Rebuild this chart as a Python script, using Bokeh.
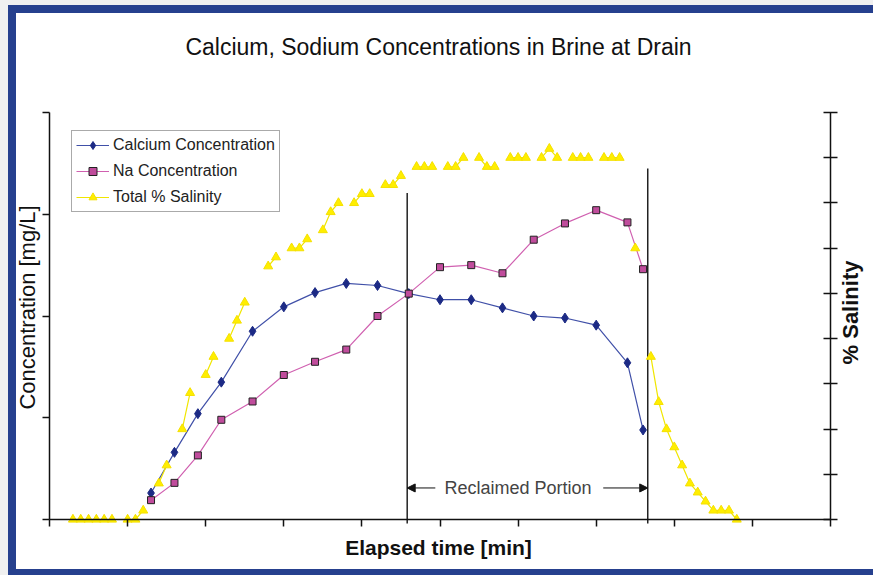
import numpy as np
from bokeh.plotting import figure
from bokeh.models import (LinearAxis, Range1d, FixedTicker, Arrow, NormalHead,
                          Label, Legend, LegendItem, ColumnDataSource)
from bokeh.embed import file_html
from bokeh.resources import INLINE

# ---- data ----
sample_time = [1.3, 1.6, 1.9, 2.2, 2.6, 3.0, 3.4, 3.8, 4.2, 4.6, 5.0, 5.4, 5.8, 6.2, 6.6, 7.0, 7.4, 7.6]
calcium = [0.26, 0.66, 1.04, 1.35, 1.85, 2.09, 2.23, 2.32, 2.30, 2.22, 2.16, 2.16, 2.08, 2.00, 1.98, 1.91, 1.54, 0.88]
sodium = [0.19, 0.36, 0.63, 0.98, 1.16, 1.42, 1.55, 1.67, 2.00, 2.22, 2.48, 2.50, 2.42, 2.75, 2.91, 3.04, 2.92, 2.46]

sal_time = [0.3, 0.4, 0.5, 0.6, 0.7, 0.8, 0.9, 1.0, 1.1, 1.2, 1.3, 1.4, 1.5, 1.6, 1.7, 1.8, 1.9,
            2.0, 2.1, 2.2, 2.3, 2.4, 2.5, 2.6, 2.7, 2.8, 2.9, 3.0, 3.1, 3.2, 3.3, 3.4, 3.5, 3.6,
            3.7, 3.8, 3.9, 4.0, 4.1, 4.2, 4.3, 4.4, 4.5, 4.6, 4.7, 4.8, 4.9, 5.0, 5.1, 5.2, 5.3,
            5.4, 5.5, 5.6, 5.7, 5.8, 5.9, 6.0, 6.1, 6.2, 6.3, 6.4, 6.5, 6.6, 6.7, 6.8, 6.9, 7.0,
            7.1, 7.2, 7.3, 7.4, 7.5, 7.6, 7.7, 7.8, 7.9, 8.0, 8.1, 8.2, 8.3, 8.4, 8.5, 8.6, 8.7, 8.8]
salinity = [0, 0, 0, 0, 0, 0, None, 0, 0, 0.2, None, 0.8, 1.2, None, 2.0, 2.8, None,
            3.2, 3.6, None, 4.0, 4.4, 4.8, None, None, 5.6, 5.8, None, 6.0, 6.0, 6.2, None, 6.4, 6.8,
            7.0, None, 7.0, 7.2, 7.2, None, 7.4, 7.4, 7.6, None, 7.8, 7.8, 7.8, None, 7.8, 7.8, 8.0,
            None, 8.0, 7.8, 7.8, None, 8.0, 8.0, 8.0, None, 8.0, 8.2, 8.0, None, 8.0, 8.0, 8.0, None,
            8.0, 8.0, 8.0, None, 6.0, None, 3.6, 2.6, 2.0, 1.6, 1.2, 0.8, 0.6, 0.4, 0.2, 0.2, 0.2, 0.0]

x_ticks = list(range(0, 11))
conc_ticks = [0, 1, 2, 3, 4]
sal_ticks = list(range(0, 10))
x_max, conc_max, sal_max = 10, 4, 9

reclaim_start = 4.58
reclaim_end = 7.66
reclaim_start_top = 3.21
reclaim_end_top = 3.45
arrow_y = 0.31

FONT = "Liberation Sans"
B = "#26408e"      # blue frame
G = "#f0f0f0"      # page grey

# ---- layout (pixels inside the canvas) ----
W, H = 857, 556
ax_left, ax_right, ax_top, ax_bottom = 33, 814, 99, 506   # axis box inside canvas
ppx = (ax_right - ax_left) / x_max
ppy = (ax_bottom - ax_top) / conc_max
pps = (ax_bottom - ax_top) / sal_max
x_rng = Range1d(-ax_left / ppx, (W - ax_left) / ppx)
y_rng = Range1d(-(H - ax_bottom) / ppy, ax_bottom / ppy)
s_rng = Range1d(-(H - ax_bottom) / pps, ax_bottom / pps)

sal_vals = np.array([np.nan if v is None else v for v in salinity], dtype=float)

p = figure(width=W, height=H, output_backend="svg", toolbar_location=None,
           x_range=x_rng, y_range=y_rng, x_axis_location=None, y_axis_location=None,
           min_border_left=0, min_border_right=0, min_border_top=0, min_border_bottom=0)
p.margin = (13, 0, 0, 16)
p.styles = {"box-shadow": ", ".join([
    f"-8px 0px 0px 0px {B}", f"0px -8px 0px 0px {B}", f"-8px -8px 0px 0px {B}",
    f"0px 6px 0px 0px {B}", f"-8px 6px 0px 0px {B}",
    f"-16px -13px 0px 0px {G}", f"0px -13px 0px 0px {G}", f"-16px 0px 0px 0px {G}",
    f"-16px 6px 0px 0px {G}"])}
p.extra_y_ranges = {"sal": s_rng}
p.outline_line_color = None
p.background_fill_color = "white"
p.border_fill_color = "white"
p.title.text = ""
p.xgrid.visible = False
p.ygrid.visible = False
for g in p.grid:
    g.visible = False

def make_axis(ax, tin, tout, ticks):
    ax.ticker = FixedTicker(ticks=ticks)
    ax.major_label_overrides = {t: "" for t in ticks}
    ax.axis_line_color = "#111111"
    ax.axis_line_width = 1.5
    ax.major_tick_line_color = "#111111"
    ax.major_tick_line_width = 1.5
    ax.major_tick_in = tin
    ax.major_tick_out = tout
    ax.minor_tick_line_color = None
    ax.major_label_text_font_size = "0px"
    ax.major_label_standoff = 0
    return ax

bottom_ax = make_axis(LinearAxis(fixed_location=0, bounds=(0, x_max)), 0, 7, x_ticks)
left_ax = make_axis(LinearAxis(fixed_location=0, bounds=(0, conc_max)), 0, 7, conc_ticks)
right_ax = make_axis(LinearAxis(y_range_name="sal", fixed_location=x_max, bounds=(0, sal_max)), 7, 7, sal_ticks)
p.add_layout(bottom_ax, "below")
p.add_layout(left_ax, "left")
p.add_layout(right_ax, "right")

def px_x(px):   # canvas pixel -> data x
    return (px - ax_left) / ppx
def px_y(py):   # canvas pixel -> concentration units
    return (ax_bottom - py) / ppy

# texts
p.add_layout(Label(x=px_x(422), y=px_y(33), text="Calcium, Sodium Concentrations in Brine at Drain",
                   text_align="center", text_baseline="alphabetic", text_font=FONT,
                   text_font_size="23px", text_color="#111111"))
p.add_layout(Label(x=px_x(422), y=px_y(534), text="Elapsed time [min]",
                   text_align="center", text_baseline="alphabetic", text_font=FONT,
                   text_font_size="21px", text_font_style="bold", text_color="#111111"))
p.add_layout(Label(x=px_x(11), y=px_y(294), text="Concentration [mg/L]", angle=np.pi / 2,
                   text_align="center", text_baseline="middle", text_font=FONT,
                   text_font_size="22px", text_color="#111111"))
p.add_layout(Label(x=px_x(834), y=px_y(299), text="% Salinity", angle=np.pi / 2,
                   text_align="center", text_baseline="middle", text_font=FONT,
                   text_font_size="22px", text_font_style="bold", text_color="#111111"))

# reclaimed portion markers
p.segment(x0=[reclaim_start], y0=[-0.04], x1=[reclaim_start], y1=[reclaim_start_top],
          line_color="#222222", line_width=1.5)
p.segment(x0=[reclaim_end], y0=[-0.04], x1=[reclaim_end], y1=[reclaim_end_top],
          line_color="#222222", line_width=1.5)

# series
src = ColumnDataSource(dict(t=sample_time, ca=calcium, na=sodium))
ca_line = p.line("t", "ca", source=src, line_color="#4050a8", line_width=1.2)
ca_pts = p.scatter("t", "ca", source=src, marker="diamond", size=10,
                   fill_color="#1c2a85", line_color="#1c2a85")
na_line = p.line("t", "na", source=src, line_color="#d060b0", line_width=1.2)
na_pts = p.scatter("t", "na", source=src, marker="square", size=7,
                   fill_color="#c04c9c", line_color="#222222", line_width=1)
ssrc = ColumnDataSource(dict(t=sal_time, s=sal_vals))
sal_line = p.line("t", "s", source=ssrc, y_range_name="sal", line_color="#f0e600", line_width=1.2)
sal_pts = p.scatter("t", "s", source=ssrc, y_range_name="sal", marker="triangle", size=9,
                    fill_color="#ffee00", line_color="#f5e000")

# arrows and label
head = dict(size=8, fill_color="#111111", line_color="#111111")
p.add_layout(Arrow(end=NormalHead(**head), x_start=4.94, y_start=arrow_y,
                   x_end=reclaim_start, y_end=arrow_y, line_width=1, line_color="#111111"))
p.add_layout(Arrow(end=NormalHead(**head), x_start=7.09, y_start=arrow_y,
                   x_end=reclaim_end, y_end=arrow_y, line_width=1, line_color="#111111"))
p.add_layout(Label(x=6.0, y=arrow_y, text="Reclaimed Portion", text_align="center",
                   text_baseline="middle", text_font=FONT, text_font_size="18px",
                   text_color="#444444"))

legend = Legend(items=[LegendItem(label="Calcium Concentration", renderers=[ca_line, ca_pts]),
                       LegendItem(label="Na Concentration", renderers=[na_line, na_pts]),
                       LegendItem(label="Total % Salinity", renderers=[sal_line, sal_pts])],
                location=(55, 357))
legend.label_text_font = FONT
legend.label_text_font_size = "16px"
legend.label_text_color = "#222222"
legend.glyph_width = 33
legend.glyph_height = 20
legend.label_height = 20
legend.spacing = 6
legend.padding = 4
legend.margin = 0
legend.label_standoff = 4
legend.border_line_color = "#555555"
legend.border_line_width = 1.2
legend.background_fill_alpha = 1
p.add_layout(legend, "center")

open("out.html", "w").write(file_html(p, INLINE))
